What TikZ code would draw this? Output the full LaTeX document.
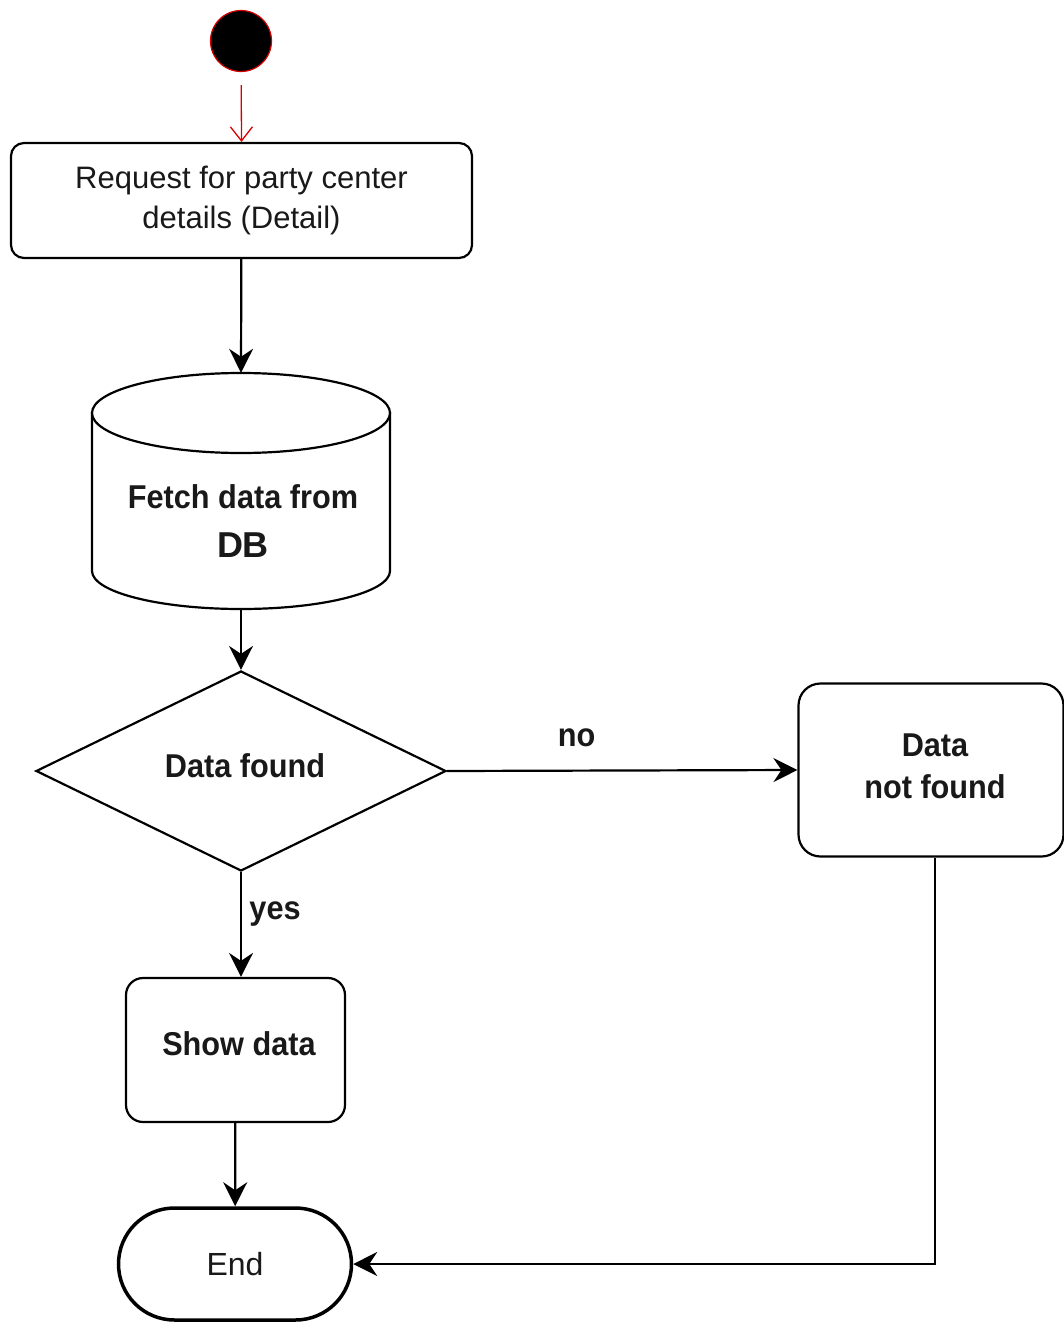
\documentclass[tikz,border=0pt]{standalone}
\usepackage{fontspec}
\setmainfont{Liberation Sans}
\newfontfamily\condbold[FakeStretch=0.93]{Liberation Sans Bold}
\usetikzlibrary{shapes.geometric,arrows.meta}
\tikzset{
  box/.style={draw, line width=2.2pt, fill=white, rounded corners=#1, inner sep=0pt, align=center},
  box/.default=14pt,
  regtext/.style={font=\fontsize{31}{40}\selectfont, text=black!90},
  boldtext/.style={font=\condbold\fontsize{33}{42}\selectfont, text=black!90, align=center},
  flow/.style={draw, line width=2.2pt, -{Stealth[length=24pt,width=24pt,inset=8pt]}},
}
\begin{document}
\begin{tikzpicture}[x=1pt,y=-1pt]
\useasboundingbox (0,0) rectangle (1064,1324);
% start
\node[circle, draw=red!85!black, line width=1.2pt, fill=black, minimum size=61pt, inner sep=0pt] (start) at (241,41) {};
% request
\node[box=13pt, regtext, minimum width=461pt, minimum height=115pt] (req) at (241.5,200.5)
  {Request for party center\\details (Detail)};
% database cylinder
\fill[white] (92,412) -- (92,571) arc[start angle=180,end angle=0,x radius=149,y radius=38] -- (390,412) -- cycle;
\draw[line width=2.2pt] (92,412) -- (92,571) arc[start angle=180,end angle=0,x radius=149,y radius=38] -- (390,412);
\draw[line width=2.2pt, fill=white] (241,413) ellipse[x radius=149,y radius=40];
\node[inner sep=0pt, minimum width=298pt, minimum height=236pt, align=center] (db) at (241,491) {};
\node[boldtext] (dbt1) at (243,497) {Fetch data from};
\node[font=\bfseries\fontsize{36}{40}\selectfont, text=black!90] (dbt2) at (243,545) {DB};
% decision
\node[diamond, draw, line width=2.2pt, fill=white, minimum width=410pt, minimum height=200pt, inner sep=0pt, aspect=2.05] (dec) at (241,771) {};
\node[boldtext] (dect) at (245,766) {Data found};
% not found
\node[box=22pt, minimum width=265pt, minimum height=173pt] (nf) at (931,770) {};
\node[boldtext] (nft) at (935,766) {Data\\not found};
% show data
\node[box=17pt, minimum width=219pt, minimum height=144pt] (show) at (235.5,1050) {};
\node[boldtext] (showt) at (239,1044) {Show data};
% end
\node[draw, line width=3.5pt, fill=white, rounded corners=56pt, minimum width=233pt, minimum height=112pt, inner sep=0pt, font=\fontsize{32}{40}\selectfont, text=black!90] (end) at (235,1264) {End};
% connectors
\draw[red!85!black, line width=1.3pt, shorten <=13pt, -{Straight Barb[length=14pt,width=22pt]}] (start) -- (req.north);
\draw[flow] (req) -- (db.north);
\draw[flow] (db.south) -- (dec.north);
\draw[flow] (dec.east) -- (nf.west) node[pos=0.37, above=19pt, boldtext] (nolab) {no};
\draw[flow] (dec.south) -- (dec.south |- show.north) node[pos=0.4, right=4pt, boldtext] (yeslab) {yes};
\draw[flow] (show) -- (end);
\draw[flow] ([xshift=4pt]nf.south) |- (end.east);
\end{tikzpicture}
\end{document}
